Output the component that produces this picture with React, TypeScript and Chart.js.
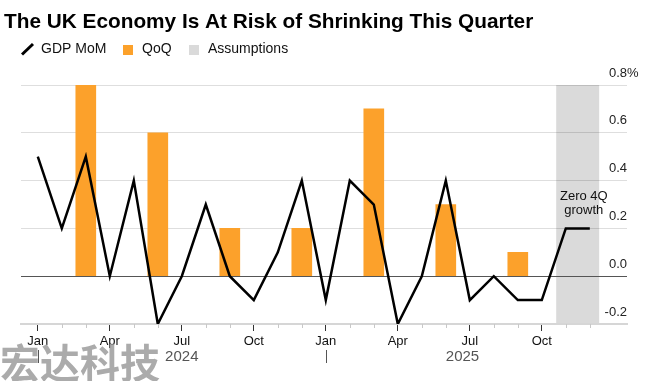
import React, { useEffect, useRef } from 'react';
import { Chart, registerables } from 'chart.js';

Chart.register(...registerables);

// ---------- data ----------
const TITLE = 'The UK Economy Is At Risk of Shrinking This Quarter';
const legendLabels = ['GDP MoM', 'QoQ', 'Assumptions'];
const monthNames = ['Jan', 'Feb', 'Mar', 'Apr', 'May', 'Jun', 'Jul', 'Aug', 'Sep', 'Oct', 'Nov', 'Dec'];
const months = [
  '2024-01', '2024-02', '2024-03', '2024-04', '2024-05', '2024-06',
  '2024-07', '2024-08', '2024-09', '2024-10', '2024-11', '2024-12',
  '2025-01', '2025-02', '2025-03', '2025-04', '2025-05', '2025-06',
  '2025-07', '2025-08', '2025-09', '2025-10', '2025-11', '2025-12',
];
const gdpMoM = [
  0.5, 0.2, 0.5, 0.0, 0.4, -0.2, 0.0, 0.3, 0.0, -0.1, 0.1, 0.4,
  -0.1, 0.4, 0.3, -0.2, 0.0, 0.4, -0.1, 0.0, -0.1, -0.1, 0.2, 0.2,
];
const qoqMonths = ['2024-03', '2024-06', '2024-09', '2024-12', '2025-03', '2025-06', '2025-09'];
const qoqValues = [0.8, 0.6, 0.2, 0.2, 0.7, 0.3, 0.1];
const assumptionMonths = ['2025-11', '2025-12'];
const annotationLines = ['Zero 4Q', 'growth'];
const yTicks = [-0.2, 0, 0.2, 0.4, 0.6, 0.8];
const yearLabels = ['2024', '2025'];
const watermark = '宏达科技';

// ---------- styles ----------
const FONT = '"Liberation Sans", Arial, Helvetica, sans-serif';
const ORANGE = '#fca12b';
const SHADE = '#dadada';

const idx = (m: string) => months.indexOf(m);

const overlayPlugin = {
  id: 'overlay',
  beforeDraw(chart: any) {
    const { ctx, chartArea, scales } = chart;
    const x = scales.x;
    const s = x.getPixelForValue(idx(assumptionMonths[0]) - 0.4);
    const e = x.getPixelForValue(idx(assumptionMonths[assumptionMonths.length - 1]) + 0.39);
    ctx.save();
    ctx.fillStyle = SHADE;
    ctx.fillRect(s, chartArea.top, e - s, chartArea.bottom - chartArea.top);
    ctx.restore();
  },
  afterDraw(chart: any) {
    const { ctx, chartArea, scales } = chart;
    const x = scales.x;
    const y = scales.y;
    ctx.save();
    // title
    ctx.fillStyle = '#000';
    ctx.textBaseline = 'alphabetic';
    ctx.textAlign = 'left';
    ctx.font = `bold 20.8px ${FONT}`;
    ctx.fillText(TITLE, 4, 28);

    // legend
    ctx.strokeStyle = '#000';
    ctx.lineWidth = 3;
    ctx.beginPath();
    ctx.moveTo(22, 54.5);
    ctx.lineTo(33, 44);
    ctx.stroke();
    ctx.font = `14px ${FONT}`;
    ctx.fillStyle = '#111';
    ctx.fillText(legendLabels[0], 41, 53);
    ctx.fillStyle = ORANGE;
    ctx.fillRect(123, 45, 10, 10);
    ctx.fillStyle = '#111';
    ctx.fillText(legendLabels[1], 142, 53);
    ctx.fillStyle = SHADE;
    ctx.fillRect(189, 45, 10, 10);
    ctx.fillStyle = '#111';
    ctx.fillText(legendLabels[2], 208, 53);

    // minor ticks
    ctx.strokeStyle = '#c8c8c8';
    ctx.lineWidth = 1;
    months.forEach((_, i) => {
      if (i % 3 === 0) return;
      const px = Math.round(x.getPixelForValue(i)) + 0.5;
      ctx.beginPath();
      ctx.moveTo(px, chartArea.bottom);
      ctx.lineTo(px, chartArea.bottom + 4);
      ctx.stroke();
    });

    // year labels and separators
    ctx.font = `15px ${FONT}`;
    ctx.fillStyle = '#555';
    ctx.textAlign = 'center';
    const endIdx = idx(assumptionMonths[assumptionMonths.length - 1]) + 0.39;
    yearLabels.forEach((yr, k) => {
      const start = idx(`${yr}-01`);
      const next = k + 1 < yearLabels.length ? idx(`${yearLabels[k + 1]}-01`) : endIdx;
      const cx = x.getPixelForValue((start + next) / 2);
      ctx.fillText(yr, cx, 361);
      const sx = Math.round(x.getPixelForValue(start)) + 0.5;
      ctx.strokeStyle = '#555';
      ctx.beginPath();
      ctx.moveTo(sx, 350);
      ctx.lineTo(sx, 363);
      ctx.stroke();
    });

    // percent sign on top tick
    ctx.font = `13px ${FONT}`;
    ctx.fillStyle = '#222';
    ctx.textAlign = 'left';
    ctx.textBaseline = 'middle';
    ctx.fillText('%', chartArea.right, y.getPixelForValue(yTicks[yTicks.length - 1]) - 12);

    // annotation
    ctx.textAlign = 'center';
    ctx.textBaseline = 'alphabetic';
    ctx.fillStyle = '#111';
    const ax = x.getPixelForValue(idx(assumptionMonths[assumptionMonths.length - 1]) - 0.25);
    const ay = y.getPixelForValue(gdpMoM[idx(assumptionMonths[0])]);
    ctx.fillText(annotationLines[0], ax, ay - 28);
    ctx.fillText(annotationLines[1], ax, ay - 14);
    ctx.restore();
  },
};

export default function App() {
  const canvasRef = useRef<HTMLCanvasElement | null>(null);

  useEffect(() => {
    document.body.style.margin = '0';
    const canvas = canvasRef.current;
    if (!canvas) return;
    Chart.defaults.font.family = FONT;

    const chart = new Chart(canvas, {
      type: 'bar',
      data: {
        datasets: [
          {
            type: 'line',
            label: legendLabels[0],
            data: gdpMoM.map((v, i) => ({ x: i, y: v })),
            borderColor: '#000',
            borderWidth: 2.5,
            borderJoinStyle: 'miter',
            pointRadius: 0,
            tension: 0,
            order: 0,
          } as any,
          {
            type: 'bar',
            label: legendLabels[1],
            data: qoqMonths.map((m, k) => ({ x: idx(m), y: qoqValues[k] })),
            backgroundColor: ORANGE,
            barThickness: 20,
            order: 1,
          } as any,
        ],
      },
      plugins: [overlayPlugin],
      options: {
        responsive: false,
        animation: false,
        devicePixelRatio: 1,
        layout: { padding: { top: 85, left: 21, right: 45, bottom: 0 } },
        plugins: {
          legend: { display: false },
          title: { display: false },
          tooltip: { enabled: false },
        },
        scales: {
          x: {
            type: 'linear',
            min: -0.7,
            max: 24.55,
            offset: false,
            afterBuildTicks: (scale: any) => {
              scale.ticks = months.map((_, i) => ({ value: i }));
            },
            afterFit: (scale: any) => {
              scale.height = 57;
            },
            ticks: {
              autoSkip: false,
              maxRotation: 0,
              padding: 3,
              color: '#111',
              font: { size: 13, family: FONT },
              callback: (v: any) => {
                const i = Math.round(Number(v));
                return i % 3 === 0 ? monthNames[Number(months[i].slice(5)) - 1] : '';
              },
            },
            grid: {
              drawOnChartArea: false,
              drawTicks: true,
              tickLength: 7,
              tickWidth: 1,
              offset: false,
              tickColor: (c: any) => (c.tick && Math.round(c.tick.value) % 3 === 0 ? '#333' : 'rgba(0,0,0,0)'),
            },
            border: { display: true, color: '#d6d6d6', width: 2 },
          },
          y: {
            type: 'linear',
            position: 'right',
            min: yTicks[0],
            max: yTicks[yTicks.length - 1],
            afterBuildTicks: (scale: any) => {
              scale.ticks = yTicks.map((v) => ({ value: v }));
            },
            afterFit: (scale: any) => {
              scale.width = 0;
            },
            ticks: {
              mirror: true,
              padding: 0,
              labelOffset: -12,
              color: '#222',
              font: { size: 13, family: FONT },
              callback: (v: any) => Number(v).toFixed(1),
            },
            grid: {
              drawTicks: false,
              color: (c: any) => (c.tick && Math.abs(c.tick.value) < 1e-9 ? '#555' : 'rgba(0,0,0,0.13)'),
              lineWidth: 1,
            },
            border: { display: false },
          },
        },
      },
    });
    return () => chart.destroy();
  }, []);

  return (
    <div style={{ position: 'relative', width: 672, height: 381, background: '#fff', overflow: 'hidden' }}>
      <canvas ref={canvasRef} width={672} height={381} style={{ display: 'block', width: 672, height: 381 }} />
      <div
        style={{
          position: 'absolute',
          left: 0,
          top: 339,
          fontFamily: '"Noto Sans CJK SC", sans-serif',
          fontWeight: 700,
          fontSize: 40,
          lineHeight: '44px',
          color: 'rgba(150,150,150,0.8)',
          whiteSpace: 'nowrap',
          pointerEvents: 'none',
        }}
      >
        {watermark}
      </div>
    </div>
  );
}
